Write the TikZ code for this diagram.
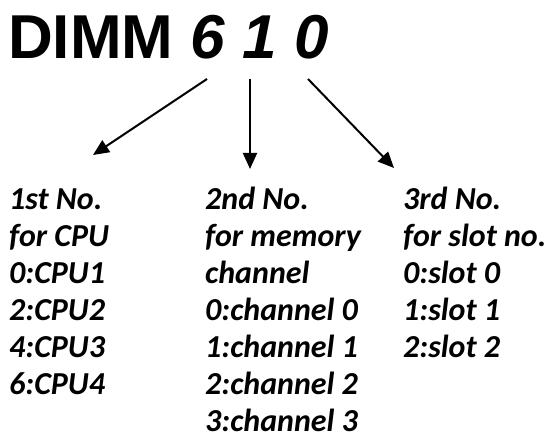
\documentclass[tikz,border=0pt]{standalone}
\usepackage{fontspec}
\setmainfont{Liberation Sans}
\newfontfamily\listfont{Carlito}
\usetikzlibrary{arrows.meta}
\begin{document}
\begin{tikzpicture}[x=1pt,y=-1pt,
  titletext/.style={anchor=base west,inner sep=0pt,font=\fontsize{62}{62}\selectfont\bfseries},
  listline/.style={anchor=base west,inner sep=0pt,font=\fontsize{32}{32}\selectfont\listfont\bfseries\itshape},
  pointer/.style={line width=2pt,-{Triangle[length=16pt,width=14pt]}}]
\useasboundingbox (0,0) rectangle (552,443);
% title
\node[titletext] (title) at (8,59) {DIMM \textit{6 1 0}};
% arrow ends
\coordinate (s1) at (207,79);
\coordinate (e1) at (93,155);
\coordinate (s2) at (250,79);
\coordinate (e2) at (250,169);
\coordinate (s3) at (308,79);
\coordinate (e3) at (394,168);
\draw[pointer] (s1) -- (e1);
\draw[pointer] (s2) -- (e2);
\draw[pointer] (s3) -- (e3);
% first column
\foreach \t [count=\i from 0] in {1st No.,for CPU,0:CPU1,2:CPU2,4:CPU3,6:CPU4}
  \node[listline] (a\i) at (9,210+37*\i) {\t};
% second column
\foreach \t [count=\i from 0] in {2nd No.,for memory,channel,0:channel 0,1:channel 1,2:channel 2,3:channel 3}
  \node[listline] (b\i) at (205,210+37*\i) {\t};
% third column
\foreach \t [count=\i from 0] in {3rd No.,for slot no.,0:slot 0,1:slot 1,2:slot 2}
  \node[listline] (c\i) at (403,210+37*\i) {\t};
\end{tikzpicture}
\end{document}
